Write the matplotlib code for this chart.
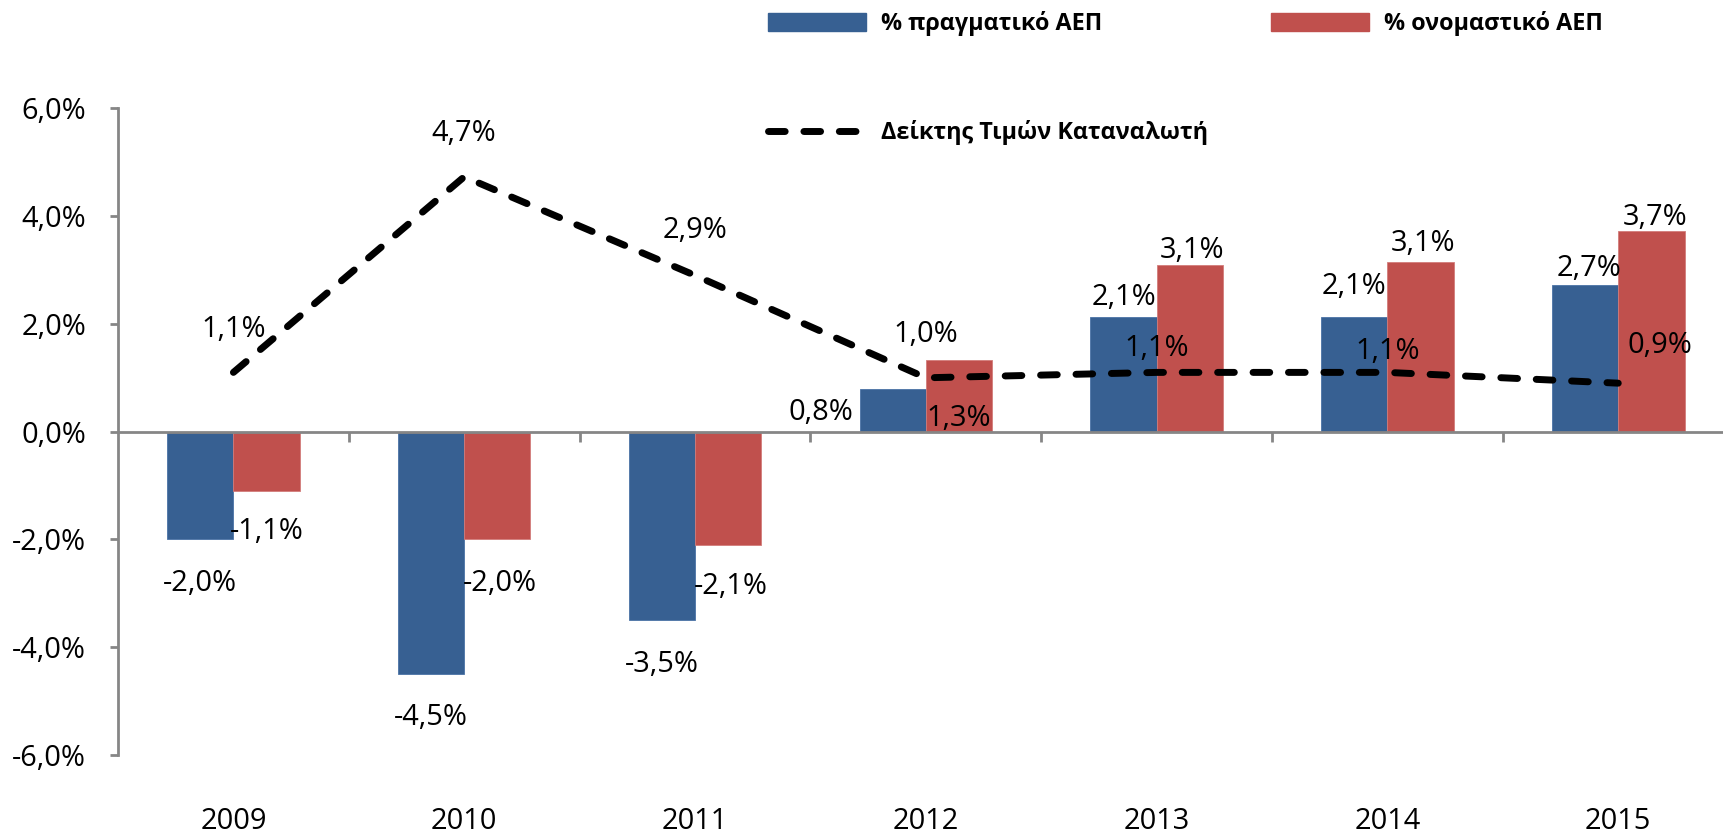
import matplotlib
matplotlib.use("Agg")
import matplotlib.pyplot as plt
import numpy as np
from matplotlib.patches import Patch
from matplotlib.lines import Line2D

# data
years = ["2009", "2010", "2011", "2012", "2013", "2014", "2015"]
real_gdp = [-2.0, -4.5, -3.5, 0.8, 2.12, 2.12, 2.72]
nominal_gdp = [-1.1, -2.0, -2.1, 1.33, 3.1, 3.14, 3.72]
cpi = [1.1, 4.73, 2.9, 1.0, 1.1, 1.1, 0.9]

series_names = ["% πραγματικό ΑΕΠ", "% ονομαστικό ΑΕΠ", "Δείκτης Τιμών Καταναλωτή"]
y_ticks = [-6, -4, -2, 0, 2, 4, 6]

# label offsets (points) from the end of each mark
real_offsets = [(0, -32), (0, -31), (0, -32), (-52, -17), (0, 14), (0, 22), (3, 12)]
nominal_offsets = [(0, -29), (2, -32), (2, -30), (0, -42), (2, 10), (2, 14), (3, 10)]
cpi_offsets = [(0, 31), (0, 31), (0, 32), (0, 31), (0, 17), (0, 15), (30, 27)]

BLUE = "#376092"
RED = "#C0504D"
GREY = "#868686"
FONT = "Open Sans"


def pct(v):
    return f"{v:.1f}".replace(".", ",") + "%"


plt.rcParams["font.family"] = [FONT, "DejaVu Sans"]

fig = plt.figure(figsize=(17.23, 8.34), dpi=100)
ax = fig.add_axes([0.06849, 0.0947, 0.9377, 0.7754])

x = np.arange(len(years))
w = 0.287
ax.bar(x - w / 2, real_gdp, w, color=BLUE, edgecolor="#4a73a6", linewidth=0.6, zorder=1)
ax.bar(x + w / 2, nominal_gdp, w, color=RED, edgecolor="#d27c7a", linewidth=0.6, zorder=1)
ax.plot(x, cpi, color="black", linewidth=5, dashes=(2.4, 2.7),
        dash_capstyle="round", solid_capstyle="round", zorder=3)

lab_kw = dict(textcoords="offset points", ha="center", va="center",
              fontsize=20.9, color="black", zorder=5)
for i in range(len(years)):
    ax.annotate(pct(real_gdp[i]), (x[i] - w / 2, real_gdp[i]), xytext=real_offsets[i], **lab_kw)
    ax.annotate(pct(nominal_gdp[i]), (x[i] + w / 2, nominal_gdp[i]), xytext=nominal_offsets[i], **lab_kw)
    ax.annotate(pct(cpi[i]), (x[i], cpi[i]), xytext=cpi_offsets[i], **lab_kw)

ax.set_xlim(-0.5, 6.5)
ax.set_ylim(-6, 6)

for s in ["top", "right"]:
    ax.spines[s].set_visible(False)
ax.spines["bottom"].set_position(("data", 0))
for s in ["left", "bottom"]:
    ax.spines[s].set_color(GREY)
    ax.spines[s].set_linewidth(2)

ax.set_yticks(y_ticks)
ax.set_yticklabels([pct(v) for v in y_ticks])
ax.tick_params(axis="y", direction="out", length=5.8, width=2, color=GREY,
               labelsize=20.9, pad=17)

ax.set_xticks(x)
ax.set_xticklabels(years)
ax.set_xticks(np.arange(0.5, 6.6, 1), minor=True)
ax.tick_params(axis="x", which="major", length=0, labelsize=20.9, pad=270)
ax.tick_params(axis="x", which="minor", direction="out", length=7, width=2, color=GREY)

handles = [Patch(facecolor=BLUE, edgecolor=BLUE),
           Line2D([], [], color="black", linewidth=5, dashes=(2.4, 2.7), dash_capstyle="round"),
           Patch(facecolor=RED, edgecolor=RED)]
labels = [series_names[0], series_names[2], series_names[1]]
fig.legend(handles, labels, loc="upper left",
           bbox_to_anchor=(768 / 1723, 1 - 11 / 834), bbox_transform=fig.transFigure,
           ncol=2, frameon=False,
           prop=dict(family=FONT, weight="bold", size=16.8),
           handlelength=4.2, handleheight=0.78, handletextpad=0.65,
           columnspacing=2.7, labelspacing=3.6, borderpad=0, borderaxespad=0)

fig.savefig("out.png", dpi=100, facecolor="white")
